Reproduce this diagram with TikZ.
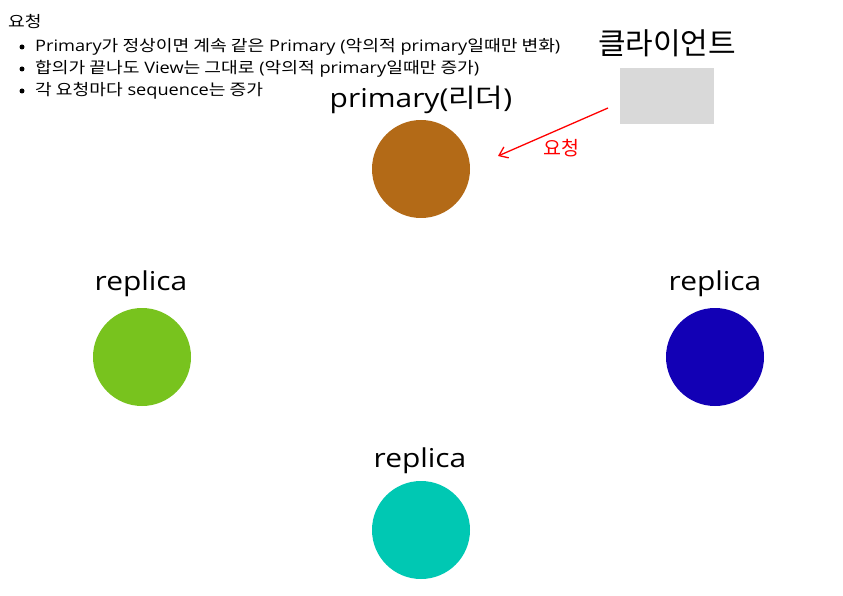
\documentclass[tikz,border=0pt]{standalone}
\usepackage{fontspec}
\setmainfont{Open Sans}[FakeStretch=1.15]
\newfontfamily\kr{Noto Sans CJK KR}[FakeStretch=1.15]
\newfontfamily\krn{Noto Sans CJK KR}
\newcommand{\K}[1]{{\kr #1}}
\usetikzlibrary{arrows.meta}
\definecolor{cbrown}{HTML}{B36A17}
\definecolor{cgreen}{HTML}{78C31E}
\definecolor{cblue}{HTML}{1200B5}
\definecolor{cteal}{HTML}{00C8B3}
\definecolor{cgray}{HTML}{D9D9D9}
\tikzset{
  peer/.style={circle, minimum size=98pt, inner sep=0pt, draw=none},
  biglabel/.style={font=\fontsize{26}{30}\selectfont, inner sep=0pt},
  note/.style={font=\fontsize{15.8}{18}\selectfont, inner sep=0pt, anchor=west},
  dot/.style={circle, fill=black, minimum size=5pt, inner sep=0pt},
  req/.style={draw=red, line width=1.3pt, -{Straight Barb[length=8pt,width=12pt]}}
}
\begin{document}
\begin{tikzpicture}[x=1pt,y=-1pt]
\useasboundingbox (0,0) rectangle (843,596);
% notes
\node[note] (t0) at (8,22) {\K{요청}};
\node[dot] (b1) at (22,47) {};
\node[note] (l1) at (35,47) {Primary\K{가 정상이면 계속 같은} Primary (\K{악의적} primary\K{일때만 변화})};
\node[dot] (b2) at (22,69) {};
\node[note] (l2) at (35,69) {\K{합의가 끝나도} View\K{는 그대로} (\K{악의적} primary\K{일때만 증가})};
\node[dot] (b3) at (22,91) {};
\node[note] (l3) at (35,91) {\K{각 요청마다} sequence\K{는 증가}};
% client
\node[font=\fontsize{30}{34}\selectfont\krn, inner sep=0pt] (cl) at (667,43) {클라이언트};
\node[fill=cgray, minimum width=94pt, minimum height=56pt, inner sep=0pt] (client) at (667,96) {};
% peers
\node[biglabel] (pl) at (421,100) {primary(\K{리더})};
\node[peer, fill=cbrown] (p) at (421,169) {};
\node[biglabel] (r1l) at (141,284) {replica};
\node[peer, fill=cgreen] (r1) at (142,357) {};
\node[biglabel] (r2l) at (715,284) {replica};
\node[peer, fill=cblue] (r2) at (715,357) {};
\node[biglabel] (r3l) at (420,461) {replica};
\node[peer, fill=cteal] (r3) at (421,530) {};
% request arrow
\coordinate (a0) at (608,108);
\coordinate (a1) at (498,156);
\draw[req] (a0) -- (a1);
\node[text=red, font=\fontsize{19.5}{22}\selectfont\krn, inner sep=0pt] (rq) at (561,148) {요청};
\end{tikzpicture}
\end{document}
